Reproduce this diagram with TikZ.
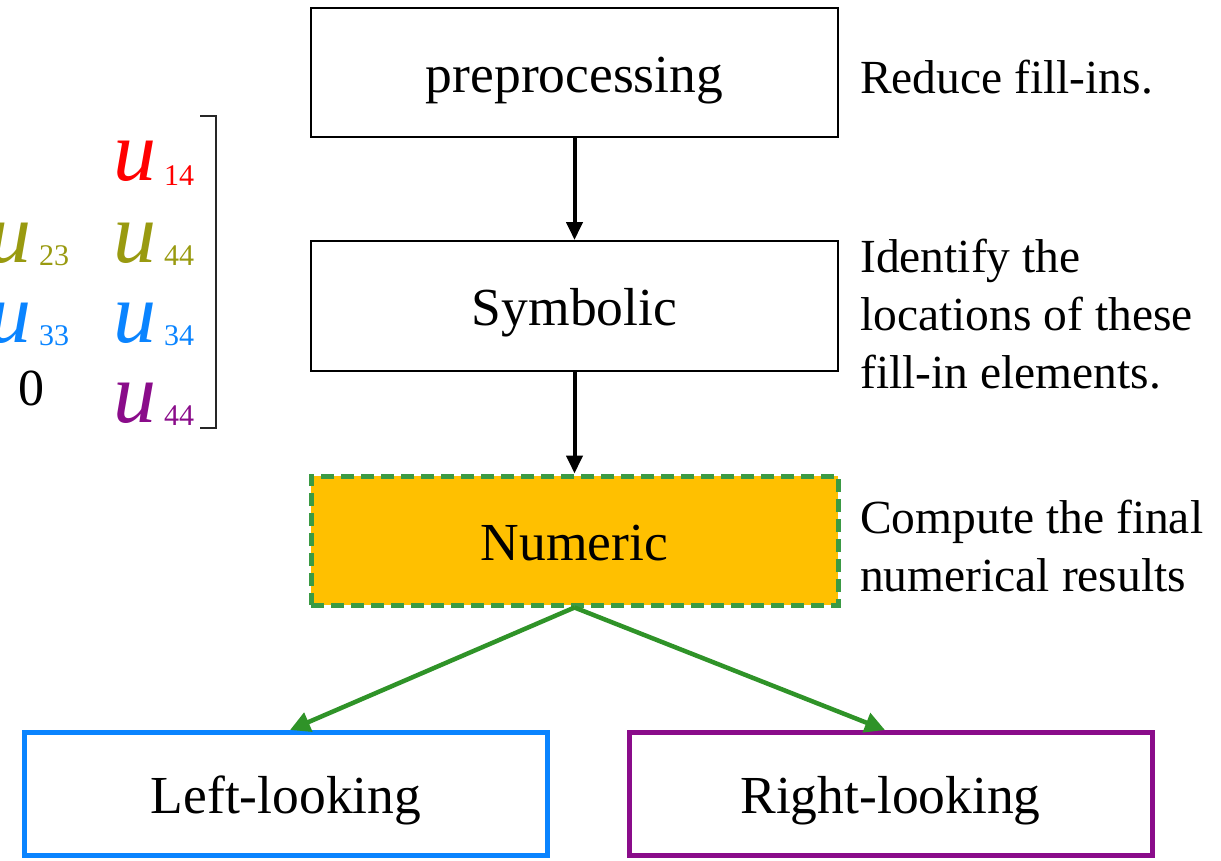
\documentclass[tikz,border=0pt]{standalone}
\usepackage{fontspec}
\setmainfont{Liberation Serif}
\usetikzlibrary{arrows.meta}

\definecolor{numfill}{HTML}{FFC000}
\definecolor{dashgreen}{HTML}{3A9A44}
\definecolor{arrgreen}{HTML}{2F9328}
\definecolor{leftblue}{HTML}{0A84FF}
\definecolor{rightpurple}{HTML}{8A0C8A}
\definecolor{uolive}{HTML}{999A10}
\definecolor{ured}{HTML}{FF0000}

\begin{document}
\begin{tikzpicture}[x=1pt,y=-1pt,
  stagebox/.style={draw=black, line width=2pt, minimum width=527pt, minimum height=129pt,
    inner sep=0pt, text height=39pt, text depth=0pt, font=\fontsize{53.5}{60}\selectfont},
  branchbox/.style={draw, line width=5pt, fill=white, minimum width=523pt, minimum height=123pt,
    inner sep=0pt, text height=39pt, text depth=0pt, font=\fontsize{53.5}{60}\selectfont},
  note/.style={anchor=base west, inner sep=0pt, font=\fontsize{47.5}{58}\selectfont},
  blackarrow/.style={draw=black, line width=4pt, -{Triangle[length=18pt,width=16pt]}},
  greenarrow/.style={draw=arrgreen, line width=4.5pt, -{Triangle[length=20pt,width=20pt]}},
  uentry/.style={anchor=base west, inner sep=0pt, font=\fontsize{86}{86}\selectfont\itshape},
  usub/.style={anchor=base west, inner sep=0pt, font=\fontsize{30}{30}\selectfont},
]
\useasboundingbox (0,0) rectangle (1221,860);
\clip (0,0) rectangle (1221,860);

% flow stages
\node[stagebox] (pre) at (574.5,72.5) {preprocessing};
\node[stagebox, minimum height=130pt] (sym) at (574.5,306) {Symbolic};
\node[stagebox, draw=dashgreen, fill=numfill, line width=5pt,
      dash pattern=on 13pt off 7pt] (num) at (574.5,540.5) {Numeric};
\node[branchbox, draw=leftblue] (left) at (286,794) {Left-looking};
\node[branchbox, draw=rightpurple] (right) at (890.5,794) {Right-looking};

% connectors
\draw[blackarrow] (pre.south) -- (sym.north);
\draw[blackarrow] (sym.south) -- (num.north);
\draw[greenarrow] (num.south) -- ([xshift=4pt]left.north);
\draw[greenarrow] (num.south) -- ([xshift=-5.5pt]right.north);

% explanations
\node[note] (n1) at (860,93) {Reduce fill-ins.};
\node[note] (n2a) at (860,272) {Identify the};
\node[note] (n2b) at (860,330) {locations of these};
\node[note] (n2c) at (860,388) {fill-in elements.};
\node[note] (n3a) at (860,533) {Compute the final};
\node[note] (n3b) at (860,591) {numerical results};

% matrix fragment
\node[uentry, text=ured] (u14) at (113,180) {u};
\node[usub, text=ured] (s14) at (164,185) {14};
\node[uentry, text=uolive] (u44a) at (113,262) {u};
\node[usub, text=uolive] (s44a) at (164,265) {44};
\node[uentry, text=leftblue] (u34) at (113,342) {u};
\node[usub, text=leftblue] (s34) at (164,345) {34};
\node[uentry, text=rightpurple] (u44b) at (113,422) {u};
\node[usub, text=rightpurple] (s44b) at (164,425) {44};
\node[uentry, text=uolive] (u23) at (-12,262) {u};
\node[usub, text=uolive] (s23) at (39,265) {23};
\node[uentry, text=leftblue] (u33) at (-12,342) {u};
\node[usub, text=leftblue] (s33) at (39,345) {33};
\node[anchor=base, inner sep=0pt, font=\fontsize{52}{52}\selectfont] (zero) at (32,405) {0};
\draw[line width=2.5pt, draw=black!85] (200,116) -- (216,116) -- (216,428) -- (200,428);
\end{tikzpicture}
\end{document}
